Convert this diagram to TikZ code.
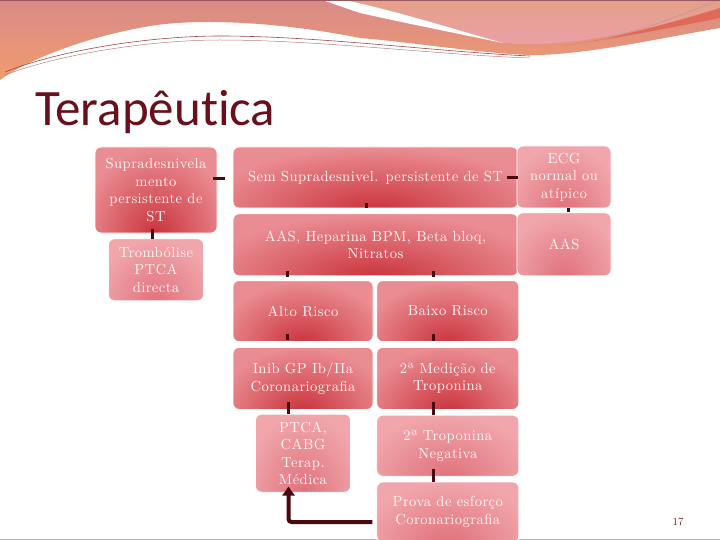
\documentclass[tikz,border=0pt]{standalone}
\usepackage{fontspec}
\newfontfamily\titlefont{Carlito}[Ligatures=NoCommon]
\newfontfamily\boxfont{lmroman10-regular.otf}[LetterSpace=3]
\usetikzlibrary{positioning,calc,arrows.meta}
\definecolor{slidered}{HTML}{6A0F1C}
\definecolor{tickred}{HTML}{4A0810}
\definecolor{darkout}{HTML}{EA8D93}
\definecolor{darkin}{HTML}{CA323B}
\definecolor{lightout}{HTML}{F0A6AB}
\definecolor{lightin}{HTML}{E0707A}
\definecolor{boxtext}{HTML}{FFF6F6}
\definecolor{bandpink}{HTML}{D88A88}
\definecolor{bandorange}{HTML}{F29C6E}
\definecolor{bandsalmon}{HTML}{E4A088}
\definecolor{bandrose}{HTML}{ECA0A8}
\definecolor{bandred}{HTML}{E2604E}
\definecolor{waveline}{HTML}{9A4A50}
\tikzset{
	box/.style={draw=white, line width=0.8pt, rounded corners=6pt, inner sep=2pt,
		align=center, text=boxtext, fill=#1out,
		font=\boxfont\fontsize{14.6}{17.5}\selectfont,
		path picture={\shade[inner color=#1in, outer color=#1out]
			let \p1=(path picture bounding box.south west), \p2=(path picture bounding box.north east) in
			($(path picture bounding box.south)+(0,-3pt)$) ellipse ({0.62*(\x2-\x1)} and {1.05*(\y2-\y1)});}},
	darkbox/.style={box=dark},
	lightbox/.style={box=light},
	tick/.style={draw=tickred, line width=3pt},
	flow/.style={draw=tickred, line width=4pt, rounded corners=3pt, -{Triangle[length=9pt,width=12pt]}},
	node distance=5pt and 3pt
}

\begin{document}
\begin{tikzpicture}[x=1pt, y=-1pt]
	\useasboundingbox (0,0) rectangle (720,540);
	\fill[white] (0,0) rectangle (720,540);
	% top waves
	\shade[top color=bandpink, bottom color=bandorange]
		(0,0) -- (720,0) -- (720,28) .. controls (650,40) and (580,56) .. (527,55)
		.. controls (470,52) and (410,42) .. (360,38) .. controls (280,22) and (200,18) .. (150,26)
		.. controls (90,36) and (30,58) .. (0,80) -- cycle;
	\shade[top color=bandsalmon, bottom color=bandrose]
		(345,0) -- (720,0) -- (720,10) .. controls (650,28) and (580,46) .. (520,44)
		-- (503,43) .. controls (450,28) and (400,12) .. (345,0);
	\fill[white] (322,0) -- (345,0) .. controls (400,12) and (450,28) .. (503,43)
		.. controls (450,32) and (400,22) .. (360,13) -- cycle;
	\fill[bandred, opacity=0.8] (720,8) .. controls (660,26) and (610,40) .. (560,46)
		.. controls (620,38) and (680,26) .. (720,18) -- cycle;
	\draw[waveline, line width=0.6pt] (5,72) .. controls (60,50) and (150,36) .. (220,36)
		.. controls (320,36) and (440,52) .. (530,56);
	\draw[waveline!70, line width=0.5pt] (5,75) .. controls (60,54) and (150,40) .. (220,40)
		.. controls (320,40) and (440,55) .. (530,58);
	\draw[waveline!60, line width=0.5pt] (600,40) .. controls (650,28) and (690,12) .. (718,0);
	\draw[slidered!70, line width=0.8pt] (0,0) -- (720,0);
	\draw[gray!60, line width=0.6pt] (0,539.5) -- (720,539.5);

	\node[anchor=base west, inner sep=0pt, text=slidered,
		font=\titlefont\fontsize{51}{60}\selectfont] (title) at (35,126) {Terapêutica};

	% boxes
	\node[darkbox, minimum width=122pt, minimum height=86pt] (supra) at (156,190)
		{Supradesnivela\\mento\\persistente de\\ST};
	\node[lightbox, minimum width=95pt, minimum height=62pt, below=of supra] (tromb)
		{Trombólise\\PTCA\\directa};
	\node[darkbox, minimum width=285pt, minimum height=61pt] (sem) at (375.5,177.5)
		{Sem Supradesnivel. persistente de ST};
	\node[darkbox, minimum width=285pt, minimum height=62pt, below=of sem] (aas1)
		{AAS, Heparina BPM, Beta bloq,\\Nitratos};
	\node[lightbox, minimum width=94pt, minimum height=62pt] (ecg) at (564,177)
		{ECG\\normal ou\\atípico};
	\node[lightbox, minimum width=94pt, minimum height=63pt, below=4pt of ecg] (aas2) {AAS};
	\node[darkbox, minimum width=140pt, minimum height=61pt, anchor=north west] (alto)
		at ($(aas1.south west)+(0,-4pt)$) {Alto Risco};
	\node[darkbox, minimum width=142pt, minimum height=61pt, right=of alto] (baixo) {Baixo Risco};
	\node[darkbox, minimum width=140pt, minimum height=62pt, below=of alto] (inib)
		{Inib GP Ib/IIa\\Coronariografia};
	\node[darkbox, minimum width=142pt, minimum height=62pt, below=of baixo] (med2)
		{2ª Medição de\\Troponina};
	\node[lightbox, minimum width=95pt, minimum height=78pt, below=4pt of inib] (ptca)
		{PTCA,\\CABG\\Terap.\\Médica};
	\node[lightbox, minimum width=142pt, minimum height=61pt, below=of med2] (trop2)
		{2ª Troponina\\Negativa};
	\node[lightbox, minimum width=142pt, minimum height=60pt, below=of trop2] (prova)
		{Prova de esforço\\Coronariografia};

	% connectors
	\draw[tick] ($(supra.east |- sem.west)+(-4pt,-1.5pt)$) -- ($(supra.east |- sem.west)+(8pt,-1.5pt)$);
	\draw[tick] ($(sem.east)+(-11pt,0)$) -- (sem.east);
	\draw[tick] ($(supra.south)+(-4pt,4pt)$) -- ($(supra.south |- tromb.north)+(-4pt,-1pt)$);
	\draw[tick] ($(sem.south)+(-9pt,5pt)$) -- ($(sem.south)+(-9pt,0)$);
	\draw[tick] ($(ecg.south)+(4pt,0)$) -- ($(aas2.north)+(4pt,0)$);
	\draw[tick] ($(aas1.south -| alto.north)+(-16pt,5pt)$) -- ($(aas1.south -| alto.north)+(-16pt,-1pt)$);
	\draw[tick] ($(aas1.south -| baixo.north)+(-14pt,5pt)$) -- ($(aas1.south -| baixo.north)+(-14pt,-1pt)$);
	\draw[tick] ($(alto.south)+(-16pt,8pt)$) -- ($(alto.south)+(-16pt,2pt)$);
	\draw[tick] ($(baixo.south)+(-14pt,8pt)$) -- ($(baixo.south)+(-14pt,1pt)$);
	\draw[tick] ($(inib.south)+(-15pt,8pt)$) -- ($(ptca.north -| inib.south)+(-15pt,0)$);
	\draw[tick] ($(med2.south)+(-14pt,8pt)$) -- ($(trop2.north)+(-14pt,0)$);
	\draw[tick] ($(trop2.south)+(-14pt,8pt)$) -- ($(prova.north)+(-14pt,0)$);
	\draw[flow] ($(prova.west)+(-4pt,-10pt)$) -| ($(ptca.south)+(-14.5pt,6pt)$);

	\node[text=slidered, font=\fontsize{11}{12}\selectfont] (pagenum) at (678,522) {\oldstylenums{17}};
\end{tikzpicture}
\end{document}
